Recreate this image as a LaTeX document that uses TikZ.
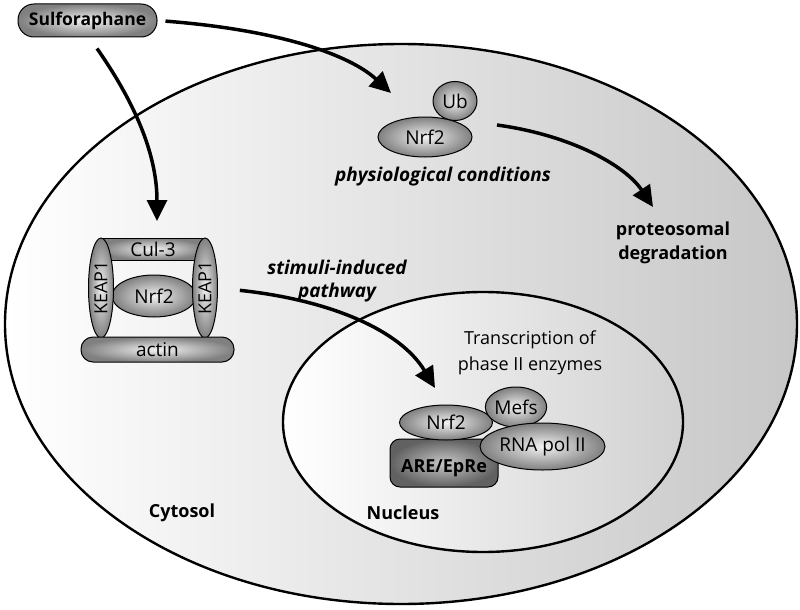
\documentclass[tikz,border=0pt]{standalone}
\usepackage{fontspec}
\setmainfont{Open Sans}
\usetikzlibrary{shapes.geometric,arrows.meta,shadings}
\tikzset{
  txt/.style={font=\fontsize{18}{26}\selectfont, inner sep=0pt},
  bold/.style={font=\fontsize{18}{24}\selectfont\bfseries, inner sep=0pt, align=center},
  boldit/.style={font=\fontsize{19}{23}\selectfont\bfseries\itshape, inner sep=0pt, align=center},
  mol/.style={draw=black, line width=1pt, inner color=black!5, outer color=black!50, inner sep=0pt,
              font=\fontsize{19}{20}\selectfont},
  oval/.style={mol, ellipse},
  pill/.style={mol, rectangle, rounded corners=12pt},
  bigarrow/.style={line width=3.5pt, -{Triangle[length=21pt,width=20pt]}},
}
\begin{document}
\begin{tikzpicture}[x=1pt,y=-1pt]
\useasboundingbox (0,0) rectangle (800,610);
% cell
\node[ellipse, draw=black, line width=2.4pt, left color=white, middle color=black!7, right color=black!22,
      minimum width=792pt, minimum height=560pt, inner sep=0pt] (cell) at (401,324) {};
% nucleus
\node[ellipse, draw=black, line width=2.4pt, left color=white, middle color=black!6, right color=black!18,
      minimum width=400pt, minimum height=260pt, inner sep=0pt] (nuc) at (483,422) {};

% Sulforaphane
\node[pill, rounded corners=16pt, minimum width=139pt, minimum height=33pt, font=\fontsize{17.5}{20}\selectfont\bfseries] (sulf) at (87.5,20.5) {Sulforaphane};

% Ub / Nrf2 (physiological)
\node[oval, minimum width=44pt, minimum height=39pt] (ub) at (455,101) {Ub};
\node[oval, minimum width=94pt, minimum height=40pt] (nrfT) at (425,137) {Nrf2};
\node[boldit] (phys) at (443,177) {physiological conditions};
\node[bold] (prot) at (673,243) {proteosomal\\degradation};

% KEAP1 complex
\node[mol, rectangle, minimum width=104pt, minimum height=22pt] (cul) at (153,249) {Cul-3};
\node[oval, minimum width=84pt, minimum height=42pt] (nrfK) at (154,296) {Nrf2};
\node[oval, minimum width=25pt, minimum height=100pt, font=\fontsize{18}{20}\selectfont] (keapL) at (101,288) {\rotatebox{90}{KEAP1}};
\node[oval, minimum width=25pt, minimum height=100pt, font=\fontsize{18}{20}\selectfont] (keapR) at (205,288) {\rotatebox{90}{KEAP1}};
\node[pill, minimum width=153pt, minimum height=25pt] (actin) at (157.5,349.5) {actin};

\node[boldit] (stim) at (337,281) {stimuli-induced\\pathway};
\node[txt, align=center] (trans) at (530,353) {Transcription of\\phase II enzymes};

% nuclear complex
\node[mol, rectangle, rounded corners=10pt, minimum width=108pt, minimum height=48pt,
      inner color=black!22, outer color=black!62, font=\fontsize{18}{20}\selectfont\bfseries,
      text depth=0pt] (are) at (444,463) {\raisebox{-6pt}{ARE/EpRe}};
\node[oval, minimum width=93pt, minimum height=35pt] (nrfN) at (446,422.5) {Nrf2};
\node[oval, minimum width=54pt, minimum height=40pt] (mefs) at (516,407) {Mefs};
\node[oval, minimum width=125pt, minimum height=47pt] (rna) at (542.5,446.5) {RNA pol II};

\node[bold] (cyto) at (182,513) {Cytosol};
\node[bold] (nucl) at (403,513) {Nucleus};

% arrows
\coordinate (t1) at (391,93);
\coordinate (t2) at (157,221);
\coordinate (s3) at (497,125);
\coordinate (t3) at (653,207);
\coordinate (t4) at (435,388);
\draw[bigarrow, shorten <=8pt] (sulf.east) .. controls (280,30) and (350,55) .. (t1);
\draw[bigarrow] ([xshift=9.5pt,yshift=-11pt]sulf.south) .. controls (140,110) and (157,160) .. (t2);
\draw[bigarrow] (s3) .. controls (570,135) and (625,165) .. (t3);
\draw[bigarrow, shorten <=22pt] (keapR.east) .. controls (330,300) and (400,330) .. (t4);
\end{tikzpicture}
\end{document}
